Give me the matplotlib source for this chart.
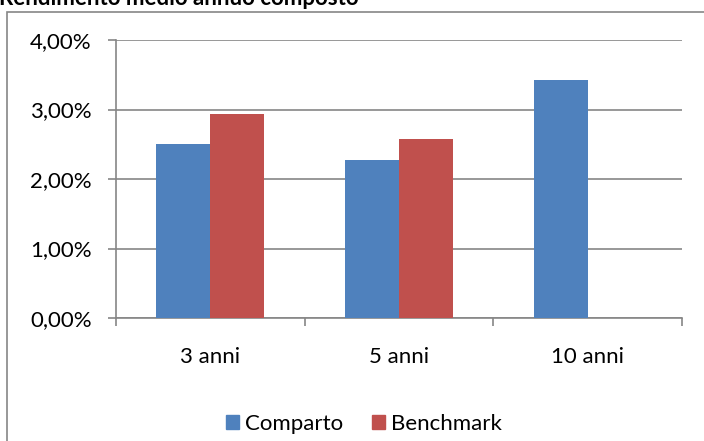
import matplotlib.pyplot as plt
from matplotlib.patches import Patch, Rectangle
from matplotlib.ticker import FuncFormatter, FixedLocator
import numpy as np

plt.rcParams['font.family'] = ['Lato', 'DejaVu Sans']

# rendimento medio annuo composto, in percento
periodi = ["3 anni", "5 anni", "10 anni"]
comparto = [2.50, 2.27, 3.43]
benchmark = [2.93, 2.58, np.nan]

BLUE = "#4F81BD"
RED = "#C0504D"
GREY = "#868686"
FS = 16

W, H = 704, 441
fig = plt.figure(figsize=(W / 100, H / 100), dpi=100)

# cornice del grafico (esce dal bordo a destra e in basso)
fig.patches.append(Rectangle((7 / W, -0.1), 1.2, 1 - 12 / H + 0.1,
                             transform=fig.transFigure, fill=False,
                             edgecolor=GREY, lw=1.2, zorder=0))

fig.text(-1 / W, 1 - 5 / H, "Rendimento medio annuo composto",
         fontsize=FS, fontweight="bold", ha="left", va="baseline")

ax = fig.add_axes([116 / W, (H - 318) / H, (682 - 116) / W, (318 - 40) / H])

x = np.arange(len(periodi))
bw = 1 / 3.5
ax.bar(x - bw / 2, comparto, bw, color=BLUE, label="Comparto", zorder=3)
ax.bar(x + bw / 2, benchmark, bw, color=RED, label="Benchmark", zorder=3)

ax.set_xlim(-0.5, 2.5)
ax.set_ylim(0, 4)
ax.set_yticks([0, 1, 2, 3, 4])
ax.yaxis.set_major_formatter(FuncFormatter(lambda v, p: f"{v:.2f}%".replace(".", ",")))
ax.grid(axis="y", color=GREY, lw=1.2, zorder=0)

ax.set_xticks(x)
ax.set_xticklabels(periodi)
ax.xaxis.set_minor_locator(FixedLocator([-0.5, 0.5, 1.5, 2.5]))
ax.tick_params(axis="x", which="major", length=0, pad=21, labelsize=FS)
ax.tick_params(axis="x", which="minor", length=5.5, width=1.2, color=GREY, direction="out")
ax.tick_params(axis="y", length=5.5, width=1.2, color=GREY, pad=12, labelsize=FS)

for s in ["top", "right"]:
    ax.spines[s].set_visible(False)
for s in ["left", "bottom"]:
    ax.spines[s].set_color(GREY)
    ax.spines[s].set_linewidth(1.2)

handles = [Patch(color=BLUE), Patch(color=RED)]
fig.legend(handles, ["Comparto", "Benchmark"], loc="center",
           bbox_to_anchor=(364 / W, 1 - 424 / H), ncol=2, frameon=False,
           fontsize=FS, handlelength=0.6, handleheight=0.6,
           handletextpad=0.27, columnspacing=1.3)

fig.savefig("out.png", dpi=100)
